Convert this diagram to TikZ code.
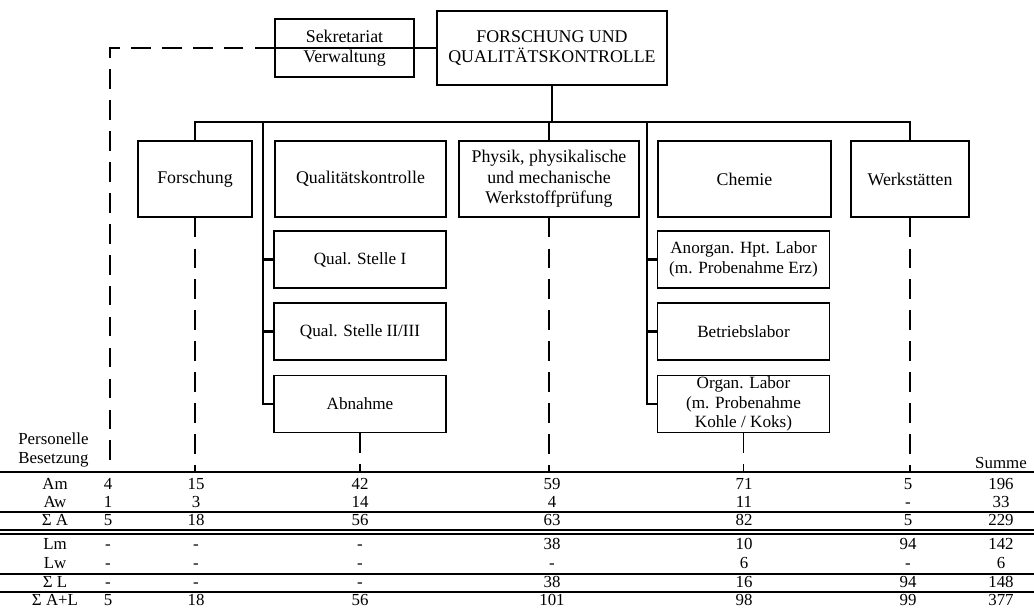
\documentclass[tikz,border=0pt]{standalone}
\usepackage{fontspec}
\setmainfont{Liberation Serif}

\begin{document}
\begin{tikzpicture}[
            x=0.025cm, y=-0.025cm,
            dept/.style={
                rectangle,
                draw=black,
                line width=0.8pt,
                minimum height=1.9cm,
                inner sep=2pt,
                align=center,
                font=\fontsize{12.7}{14.5}\selectfont
            },
            sub/.style={
                dept,
                minimum height=1.425cm,
                minimum width=4.3cm,
                inner ysep=0pt,
                font=\fontsize{12.2}{13.8}\selectfont
            },
            link/.style={line width=2pt},
            dashline/.style={line width=0.9pt, dash pattern=on 14pt off 8pt},
            tabline/.style={line width=0.8pt},
            cell/.style={
                inner sep=0pt,
                text height=8.5pt,
                text depth=2pt,
                font=\fontsize{12}{13}\selectfont
            }
        ]
        \useasboundingbox (0,0) rectangle (1034,612);

        % Head and secretariat
        \node[dept, minimum width=5.75cm, minimum height=1.85cm] (head) at (552,48) {FORSCHUNG UND\\QUALITÄTSKONTROLLE};
        \node[dept, minimum width=3.475cm, minimum height=1.45cm] (sek) at (344.5,48) {Sekretariat\\Verwaltung};

        % Departments
        \node[dept, minimum width=2.85cm] (fo) at (195,179) {Forschung};
        \node[dept, minimum width=4.275cm] (qk) at (360.5,179) {Qualitätskontrolle};
        \node[dept, minimum width=4.5cm] (phys) at (549,179) {Physik, physikalische\\und mechanische\\Werkstoffprüfung};
        \node[dept, minimum width=4.325cm] (chem) at (744.5,179) {Chemie};
        \node[dept, minimum width=2.95cm] (werk) at (910,179) {Werkstätten};

        % Sub units
        \node[sub] (qs1) at (360,259.5) {Qual. Stelle I};
        \node[sub] (qs2) at (360,331.5) {Qual. Stelle II/III};
        \node[sub] (abn) at (360,404) {Abnahme};
        \node[sub] (anorg) at (743.5,259.5) {Anorgan. Hpt. Labor\\(m. Probenahme Erz)};
        \node[sub] (blab) at (743.5,331.5) {Betriebslabor};
        \node[sub] (orglab) at (743.5,404) {Organ. Labor\\(m. Probenahme\\Kohle / Koks)};

        % Helper coordinates
        \coordinate (barl) at (195,122);
        \coordinate (barr) at (910,122);
        \coordinate (qtop) at (263,122);
        \coordinate (ctop) at (647,122);
        \coordinate (corner) at (110,48);
        \coordinate (tabtop) at (0,472);

        % Solid connections
        \draw[link] (head.south) -- (head.south |- barl);
        \draw[link] (fo.north) -- (barl) -- (barr) -- (werk.north);
        \draw[link] (phys.north) -- (phys.north |- barl);
        \draw[link] (qtop) |- (abn.west);
        \draw[link] (qs1.west) -- (qs1.west -| qtop);
        \draw[link] (qs2.west) -- (qs2.west -| qtop);
        \draw[link] (ctop) |- (orglab.west);
        \draw[link] (anorg.west) -- (anorg.west -| ctop);
        \draw[link] (blab.west) -- (blab.west -| ctop);
        \draw[link] (sek.east) -- (head.west);
        \draw[tabline] (sek.west) -- (sek.east);

        % Dashed lines down to the table
        \draw[dashline] (sek.west) -- (corner) -- (corner |- tabtop);
        \draw[dashline] (fo.south) -- (fo.south |- tabtop);
        \draw[dashline] (abn.south) -- (abn.south |- tabtop);
        \draw[dashline] (phys.south) -- (phys.south |- tabtop);
        \draw[dashline] (orglab.south) -- (orglab.south |- tabtop);
        \draw[dashline] (werk.south) -- (werk.south |- tabtop);

        % Table rules
        \draw[tabline] (0,472) -- (1034,472);
        \draw[tabline] (0,512) -- (1034,512);
        \draw[tabline] (0,530) -- (1034,530);
        \draw[tabline] (0,534) -- (1034,534);
        \draw[tabline] (0,574) -- (1034,574);
        \draw[tabline] (0,592) -- (1034,592);

        % Table headings
        \node[cell, anchor=west, align=left, text height=, text depth=] (pers) at (18,450) {Personelle\\Besetzung};
        \node[cell] (summe) at (1001,464) {Summe};

        % Row Am
        \node[cell] (am0) at (55,485) {Am};
        \node[cell] (am1) at (108,485) {4};
        \node[cell] (am2) at (196,485) {15};
        \node[cell] (am3) at (360,485) {42};
        \node[cell] (am4) at (552,485) {59};
        \node[cell] (am5) at (744,485) {71};
        \node[cell] (am6) at (908,485) {5};
        \node[cell] (am7) at (1001,485) {196};

        % Row Aw
        \node[cell] (aw0) at (55,503) {Aw};
        \node[cell] (aw1) at (108,503) {1};
        \node[cell] (aw2) at (196,503) {3};
        \node[cell] (aw3) at (360,503) {14};
        \node[cell] (aw4) at (552,503) {4};
        \node[cell] (aw5) at (744,503) {11};
        \node[cell] (aw6) at (908,503) {-};
        \node[cell] (aw7) at (1001,503) {33};

        % Row Sum A
        \node[cell] (sa0) at (55,521) {Σ A};
        \node[cell] (sa1) at (108,521) {5};
        \node[cell] (sa2) at (196,521) {18};
        \node[cell] (sa3) at (360,521) {56};
        \node[cell] (sa4) at (552,521) {63};
        \node[cell] (sa5) at (744,521) {82};
        \node[cell] (sa6) at (908,521) {5};
        \node[cell] (sa7) at (1001,521) {229};

        % Row Lm
        \node[cell] (lm0) at (55,545) {Lm};
        \node[cell] (lm1) at (108,545) {-};
        \node[cell] (lm2) at (196,545) {-};
        \node[cell] (lm3) at (360,545) {-};
        \node[cell] (lm4) at (552,545) {38};
        \node[cell] (lm5) at (744,545) {10};
        \node[cell] (lm6) at (908,545) {94};
        \node[cell] (lm7) at (1001,545) {142};

        % Row Lw
        \node[cell] (lw0) at (55,564) {Lw};
        \node[cell] (lw1) at (108,564) {-};
        \node[cell] (lw2) at (196,564) {-};
        \node[cell] (lw3) at (360,564) {-};
        \node[cell] (lw4) at (552,564) {-};
        \node[cell] (lw5) at (744,564) {6};
        \node[cell] (lw6) at (908,564) {-};
        \node[cell] (lw7) at (1001,564) {6};

        % Row Sum L
        \node[cell] (sl0) at (55,583) {Σ L};
        \node[cell] (sl1) at (108,583) {-};
        \node[cell] (sl2) at (196,583) {-};
        \node[cell] (sl3) at (360,583) {-};
        \node[cell] (sl4) at (552,583) {38};
        \node[cell] (sl5) at (744,583) {16};
        \node[cell] (sl6) at (908,583) {94};
        \node[cell] (sl7) at (1001,583) {148};

        % Row Sum A+L
        \node[cell] (sal0) at (55,601) {Σ A+L};
        \node[cell] (sal1) at (108,601) {5};
        \node[cell] (sal2) at (196,601) {18};
        \node[cell] (sal3) at (360,601) {56};
        \node[cell] (sal4) at (552,601) {101};
        \node[cell] (sal5) at (744,601) {98};
        \node[cell] (sal6) at (908,601) {99};
        \node[cell] (sal7) at (1001,601) {377};

        \end{tikzpicture}
\end{document}
